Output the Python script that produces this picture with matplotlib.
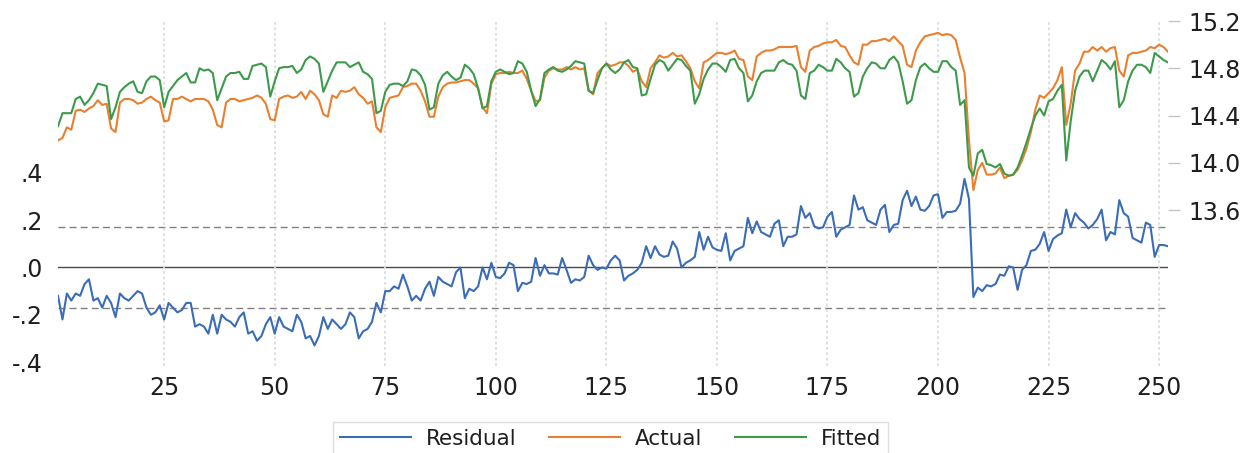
#!/usr/bin/env python3
"""
Residual / Actual / Fitted -- monthly regression diagnostics

Recreates an EViews style residual graph: residuals on the left scale with
+/- one standard error bands, actual and fitted series on the right scale.

Output:
    out.png
"""

import matplotlib

matplotlib.use("Agg")
import matplotlib.pyplot as plt
import numpy as np
from matplotlib.ticker import FixedLocator, FuncFormatter

# -- Data (one row per year, 21 years of monthly observations) ---------------

RESIDUAL = [
    -0.12, -0.22, -0.11, -0.14, -0.11, -0.12, -0.07, -0.05, -0.14, -0.13, -0.17, -0.12,
    -0.15, -0.21, -0.11, -0.13, -0.14, -0.12, -0.10, -0.11, -0.17, -0.20, -0.19, -0.16,
    -0.22, -0.15, -0.17, -0.19, -0.18, -0.15, -0.15, -0.25, -0.24, -0.25, -0.28, -0.20,
    -0.28, -0.20, -0.22, -0.23, -0.25, -0.21, -0.19, -0.28, -0.27, -0.31, -0.29, -0.24,
    -0.21, -0.28, -0.21, -0.25, -0.26, -0.27, -0.20, -0.23, -0.30, -0.29, -0.33, -0.29,
    -0.21, -0.26, -0.22, -0.24, -0.26, -0.24, -0.19, -0.21, -0.30, -0.27, -0.26, -0.23,
    -0.15, -0.19, -0.10, -0.10, -0.08, -0.09, -0.03, -0.08, -0.14, -0.12, -0.14, -0.09,
    -0.06, -0.12, -0.04, -0.06, -0.07, -0.08, -0.02, -0.00, -0.13, -0.09, -0.10, -0.08,
    0.00, -0.05, 0.02, -0.04, -0.045, -0.025, 0.02, 0.01, -0.10, -0.065, -0.07, -0.06,
    0.04, -0.035, 0.01, -0.025, -0.025, -0.03, 0.04, -0.01, -0.065, -0.05, -0.055, -0.04,
    0.05, 0.01, -0.01, 0.00, -0.005, 0.03, 0.05, 0.03, -0.055, -0.035, -0.025, -0.01,
    0.02, 0.09, 0.04, 0.09, 0.055, 0.045, 0.05, 0.11, 0.08, 0.00, 0.02, 0.03,
    0.045, 0.15, 0.075, 0.13, 0.085, 0.075, 0.07, 0.145, 0.03, 0.07, 0.08, 0.09,
    0.21, 0.145, 0.195, 0.15, 0.14, 0.13, 0.185, 0.20, 0.09, 0.13, 0.13, 0.14,
    0.26, 0.21, 0.23, 0.175, 0.165, 0.17, 0.215, 0.235, 0.13, 0.16, 0.17, 0.18,
    0.305, 0.245, 0.255, 0.20, 0.19, 0.18, 0.245, 0.265, 0.15, 0.18, 0.185, 0.285,
    0.325, 0.26, 0.30, 0.245, 0.24, 0.26, 0.305, 0.31, 0.21, 0.235, 0.235, 0.24,
    0.27, 0.375, 0.29, -0.125, -0.085, -0.10, -0.075, -0.08, -0.07, -0.03, -0.035, 0.005,
    0.00, -0.095, -0.01, 0.01, 0.07, 0.075, 0.10, 0.15, 0.07, 0.12, 0.135, 0.145,
    0.245, 0.17, 0.23, 0.205, 0.19, 0.165, 0.18, 0.205, 0.245, 0.115, 0.15, 0.14,
    0.285, 0.23, 0.215, 0.125, 0.115, 0.105, 0.19, 0.18, 0.045, 0.095, 0.095, 0.09,
]

ACTUAL = [
    14.19, 14.21, 14.30, 14.28, 14.44, 14.45, 14.43, 14.46, 14.48, 14.53, 14.49, 14.50,
    14.29, 14.26, 14.51, 14.54, 14.54, 14.53, 14.50, 14.51, 14.54, 14.56, 14.53, 14.51,
    14.35, 14.36, 14.54, 14.54, 14.56, 14.54, 14.52, 14.54, 14.54, 14.54, 14.52, 14.45,
    14.32, 14.30, 14.51, 14.54, 14.54, 14.52, 14.53, 14.54, 14.55, 14.57, 14.55, 14.50,
    14.37, 14.36, 14.54, 14.56, 14.57, 14.55, 14.56, 14.60, 14.54, 14.61, 14.58, 14.53,
    14.41, 14.39, 14.57, 14.55, 14.61, 14.60, 14.61, 14.64, 14.58, 14.55, 14.50, 14.52,
    14.30, 14.26, 14.47, 14.55, 14.56, 14.57, 14.64, 14.65, 14.67, 14.67, 14.61, 14.52,
    14.39, 14.39, 14.56, 14.64, 14.67, 14.68, 14.68, 14.69, 14.70, 14.70, 14.67, 14.63,
    14.47, 14.42, 14.67, 14.75, 14.76, 14.76, 14.77, 14.76, 14.76, 14.78, 14.71, 14.61,
    14.52, 14.53, 14.72, 14.78, 14.80, 14.79, 14.79, 14.81, 14.79, 14.81, 14.79, 14.80,
    14.61, 14.58, 14.76, 14.80, 14.84, 14.82, 14.83, 14.85, 14.85, 14.82, 14.77, 14.79,
    14.69, 14.64, 14.80, 14.85, 14.91, 14.89, 14.90, 14.93, 14.90, 14.91, 14.86, 14.80,
    14.69, 14.63, 14.85, 14.87, 14.90, 14.93, 14.93, 14.92, 14.93, 14.95, 14.88, 14.87,
    14.73, 14.70, 14.90, 14.93, 14.95, 14.95, 14.96, 14.98, 14.98, 14.98, 14.98, 14.99,
    14.81, 14.77, 14.95, 14.98, 14.99, 15.01, 15.02, 15.02, 15.04, 14.99, 14.98, 14.91,
    14.85, 14.83, 15.00, 15.00, 15.03, 15.03, 15.04, 15.05, 15.03, 15.07, 15.03, 14.99,
    14.83, 14.81, 14.95, 15.02, 15.07, 15.08, 15.09, 15.10, 15.08, 15.09, 15.08, 15.04,
    14.89, 14.76, 14.19, 13.77, 13.94, 14.00, 13.90, 13.90, 13.91, 13.96, 13.87, 13.89,
    13.90, 13.94, 14.02, 14.12, 14.26, 14.45, 14.57, 14.55, 14.59, 14.63, 14.70, 14.81,
    14.32, 14.50, 14.78, 14.84, 14.94, 14.94, 14.98, 14.95, 14.98, 14.94, 14.97, 14.98,
    14.78, 14.73, 14.91, 14.93, 14.93, 14.94, 14.95, 14.98, 14.97, 15.00, 14.98, 14.94,
]

FITTED = [
    14.31, 14.42, 14.42, 14.42, 14.54, 14.56, 14.49, 14.53, 14.59, 14.67, 14.66, 14.65,
    14.37, 14.47, 14.60, 14.64, 14.67, 14.69, 14.60, 14.59, 14.69, 14.73, 14.73, 14.70,
    14.47, 14.60, 14.65, 14.70, 14.73, 14.76, 14.68, 14.68, 14.80, 14.78, 14.79, 14.76,
    14.53, 14.63, 14.73, 14.76, 14.76, 14.77, 14.71, 14.71, 14.82, 14.83, 14.84, 14.81,
    14.56, 14.69, 14.80, 14.81, 14.81, 14.82, 14.76, 14.79, 14.87, 14.90, 14.88, 14.84,
    14.60, 14.69, 14.78, 14.85, 14.85, 14.85, 14.81, 14.83, 14.85, 14.77, 14.75, 14.71,
    14.42, 14.44, 14.60, 14.66, 14.67, 14.67, 14.65, 14.69, 14.79, 14.78, 14.74, 14.66,
    14.45, 14.47, 14.67, 14.74, 14.77, 14.73, 14.70, 14.72, 14.83, 14.80, 14.75, 14.63,
    14.46, 14.48, 14.69, 14.77, 14.79, 14.77, 14.75, 14.76, 14.86, 14.84, 14.77, 14.61,
    14.48, 14.54, 14.76, 14.79, 14.81, 14.78, 14.77, 14.79, 14.82, 14.86, 14.85, 14.84,
    14.61, 14.59, 14.70, 14.80, 14.84, 14.79, 14.76, 14.79, 14.85, 14.87, 14.81, 14.80,
    14.57, 14.58, 14.71, 14.83, 14.87, 14.85, 14.78, 14.83, 14.88, 14.87, 14.82, 14.78,
    14.50, 14.58, 14.71, 14.79, 14.84, 14.84, 14.81, 14.77, 14.87, 14.88, 14.80, 14.76,
    14.52, 14.57, 14.69, 14.76, 14.78, 14.78, 14.78, 14.85, 14.87, 14.84, 14.83, 14.78,
    14.57, 14.54, 14.76, 14.78, 14.83, 14.81, 14.78, 14.78, 14.88, 14.85, 14.80, 14.77,
    14.56, 14.59, 14.73, 14.80, 14.85, 14.84, 14.80, 14.80, 14.87, 14.90, 14.85, 14.69,
    14.50, 14.53, 14.70, 14.81, 14.84, 14.80, 14.77, 14.77, 14.86, 14.86, 14.81, 14.78,
    14.49, 14.53, 13.96, 13.89, 14.08, 14.11, 13.99, 13.98, 13.96, 13.99, 13.91, 13.89,
    13.90, 13.96, 14.06, 14.17, 14.29, 14.40, 14.46, 14.40, 14.52, 14.54, 14.61, 14.66,
    14.02, 14.35, 14.61, 14.73, 14.78, 14.78, 14.69, 14.78, 14.87, 14.84, 14.79, 14.86,
    14.47, 14.53, 14.69, 14.78, 14.83, 14.83, 14.81, 14.76, 14.93, 14.90, 14.87, 14.85,
]

X_TICKS = [25, 50, 75, 100, 125, 150, 175, 200, 225, 250]
LEFT_TICKS = [-0.4, -0.2, 0.0, 0.2, 0.4]
RIGHT_TICKS = [13.6, 14.0, 14.4, 14.8, 15.2]
SE_BAND = 0.17  # +/- one S.E. of regression

BLUE = "#3b6cb7"
ORANGE = "#e8802f"
GREEN = "#3d9a4b"
TEXT = "#1f1f1f"


def eviews_fmt(v, _pos):
    # EViews drops the leading zero: .4, .0, -.2
    s = f"{v:.1f}"
    return s.replace("0.", ".", 1)


def main() -> None:
    obs = np.arange(1, len(RESIDUAL) + 1)

    plt.rcParams["font.family"] = ["DejaVu Sans"]
    fig = plt.figure(figsize=(12.56, 4.53), dpi=100)
    ax = fig.add_axes([0.0462, 0.192, 0.8837, 0.7616])
    ax2 = ax.twinx()

    # residual panel (left scale)
    ax.grid(axis="x", color="#dcdcdc", linestyle=(0, (1.5, 1.5)), linewidth=1.3)
    ax.axhline(0.0, color="#4a4a4a", linewidth=1.0, zorder=1)
    for lvl in (SE_BAND, -SE_BAND):
        ax.axhline(lvl, color="#808080", linewidth=1.0,
                   linestyle=(0, (5, 3)), zorder=1)
    (h_res,) = ax.plot(obs, RESIDUAL, color=BLUE, linewidth=1.5,
                       label="Residual", zorder=3)

    # actual / fitted (right scale)
    (h_act,) = ax2.plot(obs, ACTUAL, color=ORANGE, linewidth=1.5, label="Actual")
    (h_fit,) = ax2.plot(obs, FITTED, color=GREEN, linewidth=1.5, label="Fitted")

    ax.set_xlim(1, len(RESIDUAL))
    ax.set_ylim(-0.417, 1.043)
    ax2.set_ylim(12.28, 15.2)

    ax.xaxis.set_major_locator(FixedLocator(X_TICKS))
    ax.yaxis.set_major_locator(FixedLocator(LEFT_TICKS))
    ax.yaxis.set_major_formatter(FuncFormatter(eviews_fmt))
    ax2.yaxis.set_major_locator(FixedLocator(RIGHT_TICKS))
    ax2.yaxis.set_major_formatter(FuncFormatter(lambda v, p: f"{v:.1f}"))

    for a in (ax, ax2):
        for sp in a.spines.values():
            sp.set_visible(False)
    ax.tick_params(axis="x", length=0, pad=7, labelsize=17, labelcolor=TEXT)
    ax.tick_params(axis="y", length=0, pad=11, labelsize=17, labelcolor=TEXT)
    ax2.tick_params(axis="y", length=8.5, width=1, color="#c4c4c4",
                    pad=6, labelsize=17, labelcolor=TEXT)

    # legend sits on the bottom edge, its lower border runs off the figure
    leg = fig.legend(
        [h_res, h_act, h_fit],
        ["Residual", "Actual", "Fitted"],
        loc="upper center",
        bbox_to_anchor=(0.486, 0.068),
        borderaxespad=0.0,
        ncol=3,
        frameon=True,
        fancybox=False,
        edgecolor="#d5d5d5",
        fontsize=15.5,
        handlelength=3.3,
        handletextpad=0.7,
        columnspacing=1.5,
        borderpad=0.3,
    )
    for t in leg.get_texts():
        t.set_color(TEXT)

    fig.savefig("out.png", dpi=100)
    plt.close(fig)


if __name__ == "__main__":
    main()
